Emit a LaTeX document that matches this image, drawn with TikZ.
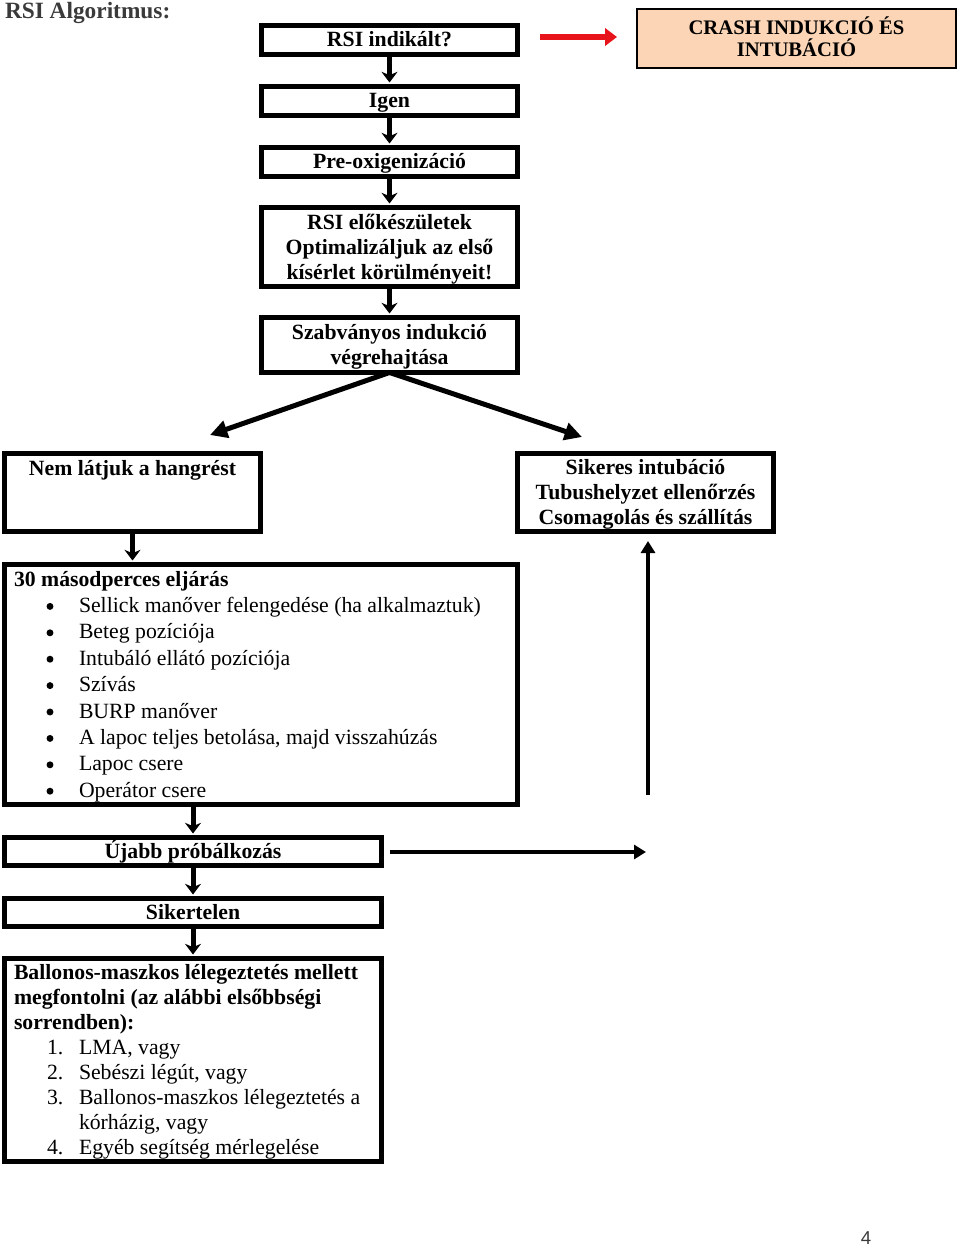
\documentclass[tikz,border=0pt]{standalone}
\usepackage{fontspec}
\setmainfont{Liberation Serif}
\newfontfamily\pagenumfont{Liberation Sans}
\usetikzlibrary{arrows.meta}
\definecolor{crashfill}{HTML}{FBD5B5}
\definecolor{crashred}{HTML}{E8141B}
\definecolor{titlegray}{HTML}{3A3A3A}
\begin{document}
\begin{tikzpicture}[x=0.75pt,y=-0.75pt,
  every node/.style={font=\fontsize{16.3pt}{18.75pt}\selectfont, inner sep=0pt, outer sep=0pt},
  box/.style={draw, line width=3.75pt},
  onebox/.style={box, text height=13pt, text depth=3pt, font=\bfseries\fontsize{16.3pt}{18.75pt}\selectfont},
  boxtext/.style={align=center, font=\bfseries\fontsize{16.3pt}{18.75pt}\selectfont},
  crashbox/.style={draw, line width=1.5pt, fill=crashfill},
  crashtext/.style={align=center, font=\bfseries\fontsize{15.5pt}{16.5pt}\selectfont},
  bold/.style={font=\bfseries\fontsize{16.3pt}{18.75pt}\selectfont},
  bulletmark/.style={circle, fill=black, minimum size=5.2pt},
  stub/.style={line width=3.75pt, -{Stealth[length=8pt,width=12pt,inset=2.5pt]}, shorten >=3pt},
  bigarrow/.style={line width=3.75pt, -{Triangle[length=13pt,width=13pt]}},
  longarrow/.style={line width=3pt, -{Triangle[length=9pt,width=10.5pt]}},
  redarrow/.style={line width=4.5pt, draw=crashred, -{Triangle[length=9pt,width=13pt]}}
]
\useasboundingbox (0,0) rectangle (960,1248);

% title
\node[font=\bfseries\fontsize{17.5pt}{20pt}\selectfont, text=titlegray, anchor=base west] (title) at (5,18.5) {RSI Algoritmus:};

% main column
\node[onebox, minimum width=256*0.75pt, minimum height=29*0.75pt] (b1) at (389.5,40) {RSI indikált?};
\node[onebox, minimum width=256*0.75pt, minimum height=29*0.75pt] (b2) at (389.5,101) {Igen};
\node[onebox, minimum width=256*0.75pt, minimum height=29*0.75pt] (b3) at (389.5,162) {Pre-oxigenizáció};
\node[box, minimum width=256*0.75pt, minimum height=79*0.75pt] (b4) at (389.5,247) {};
\node[boxtext] (b4t) at ([yshift=-1.5pt]b4.center) {RSI előkészületek\\Optimalizáljuk az első\\kísérlet körülményeit!};
\node[box, minimum width=256*0.75pt, minimum height=55*0.75pt] (b5) at (389.5,345) {};
\node[boxtext] (b5t) at ([yshift=-1.5pt]b5.center) {Szabványos indukció\\végrehajtása};

\node[crashbox, minimum width=319*0.75pt, minimum height=59*0.75pt] (crash) at (796.5,38.5) {};
\node[crashtext] (crasht) at ([yshift=1.2pt]crash.center) {CRASH INDUKCIÓ ÉS\\INTUBÁCIÓ};

\draw[stub] (b1) -- (b2);
\draw[stub] (b2) -- (b3);
\draw[stub] (b3) -- (b4);
\draw[stub] (b4) -- (b5);

\coordinate (redstart) at (540,37);
\coordinate (redend) at (617,37);
\draw[redarrow] (redstart) -- (redend);

% branches
\coordinate (leftend) at (210,435);
\coordinate (rightend) at (582,437);
\draw[bigarrow] (b5.south) -- (leftend);
\draw[bigarrow] (b5.south) -- (rightend);

\node[box, minimum width=256*0.75pt, minimum height=78*0.75pt] (nem) at (132.5,492.5) {};
\node[bold, anchor=base] (nemtext) at (132.5,475) {Nem látjuk a hangrést};

\node[box, minimum width=256*0.75pt, minimum height=78*0.75pt] (sik) at (645.5,492.5) {};
\node[boxtext] (sikt) at ([yshift=-1.5pt]sik.center) {Sikeres intubáció\\Tubushelyzet ellenőrzés\\Csomagolás és szállítás};

% 30 sec box
\node[box, minimum width=513*0.75pt, minimum height=240*0.75pt] (sec) at (261,684.5) {};
\draw[stub] (nem.south) -- (nem.south |- sec.north);
\node[bold, anchor=base west] (sectitle) at (14,586) {30 másodperces eljárás};
\foreach \t [count=\i] in {Sellick manőver felengedése (ha alkalmaztuk),Beteg pozíciója,Intubáló ellátó pozíciója,Szívás,BURP manőver,{A lapoc teljes betolása, majd visszahúzás},Lapoc csere,Operátor csere}{
  \node[bulletmark] (bul\i) at (50,{580+26.4*\i}) {};
  \node[anchor=base west] (item\i) at (79,{586+26.4*\i}) {\t};
}

% lower column
\node[onebox, minimum width=377*0.75pt, minimum height=28*0.75pt] (ujabb) at (193,851.5) {Újabb próbálkozás};
\node[onebox, minimum width=377*0.75pt, minimum height=28*0.75pt] (siker) at (193,912.5) {Sikertelen};
\node[box, minimum width=377*0.75pt, minimum height=203*0.75pt] (ballon) at (193,1060) {};

\draw[stub] (ujabb.north |- sec.south) -- (ujabb.north);
\draw[stub] (ujabb) -- (siker);
\draw[stub] (siker) -- (ballon);

\node[bold, anchor=base west] (bt1) at (14,979) {Ballonos-maszkos lélegeztetés mellett};
\node[bold, anchor=base west] (bt2) at (14,1004) {megfontolni (az alábbi elsőbbségi};
\node[bold, anchor=base west] (bt3) at (14,1029) {sorrendben):};
\node[anchor=base west] (n1) at (47,1054) {1.};
\node[anchor=base west] (t1) at (79,1054) {LMA, vagy};
\node[anchor=base west] (n2) at (47,1079) {2.};
\node[anchor=base west] (t2) at (79,1079) {Sebészi légút, vagy};
\node[anchor=base west] (n3) at (47,1104) {3.};
\node[anchor=base west] (t3) at (79,1104) {Ballonos-maszkos lélegeztetés a};
\node[anchor=base west] (t3b) at (79,1129) {kórházig, vagy};
\node[anchor=base west] (n4) at (47,1154) {4.};
\node[anchor=base west] (t4) at (79,1154) {Egyéb segítség mérlegelése};

% long arrows on the right
\coordinate (upstart) at (648,795);
\coordinate (upend) at (648,541);
\draw[longarrow] (upstart) -- (upend);
\coordinate (rstart) at (390,852);
\coordinate (rend) at (646,852);
\draw[longarrow] (rstart) -- (rend);

% page number
\node[font=\pagenumfont\fontsize{14pt}{16pt}\selectfont, text=titlegray] (pagenum) at (866,1238) {4};
\end{tikzpicture}
\end{document}
